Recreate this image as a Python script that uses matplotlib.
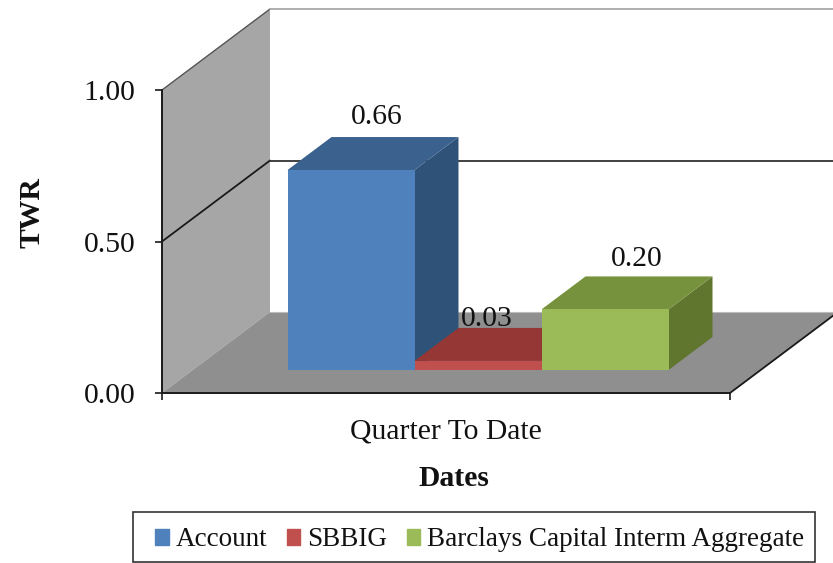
import matplotlib
matplotlib.use('Agg')
import matplotlib.pyplot as plt
import matplotlib.patches as mpatches

plt.rcParams['font.family'] = ['Liberation Serif', 'DejaVu Serif']

series = ['Account', 'SBBIG', 'Barclays Capital Interm Aggregate']
values = [0.66, 0.03, 0.20]
value_labels = ['0.66', '0.03', '0.20']
y_ticks = [0.0, 0.5, 1.0]
y_tick_labels = ['0.00', '0.50', '1.00']
category = 'Quarter To Date'

front_colors = ['#4F81BD', '#C0504D', '#9BBB59']
top_colors = ['#3B618F', '#953735', '#76923C']
side_colors = ['#2F5279', '#7F2E2C', '#60762F']

# oblique projection, all sizes relative to the axis box
DEPTH_X = 108 / 568
DEPTH_Y = 81 / 303
BAR_NEAR = 0.284
BAR_FAR = 0.691
BAR_START = 0.167
BAR_WIDTH = 0.2236
FONT = 21.3


def project(x, v, d):
	return x + d * DEPTH_X, v + d * DEPTH_Y


def quad(ax, corners, color, z=1):
	pts = [project(*c) for c in corners]
	ax.fill([p[0] for p in pts], [p[1] for p in pts], color=color, lw=0, zorder=z)


def line3d(ax, a, b, color, lw=1.3, z=2):
	pa, pb = project(*a), project(*b)
	ax.plot([pa[0], pb[0]], [pa[1], pb[1]], color=color, lw=lw, zorder=z, solid_capstyle='round')


fig = plt.figure(figsize=(8.33, 5.63), dpi=100)
ax = fig.add_axes([0, 0, 1, 1])
ax.set_xlim(-162 / 568, 671 / 568)
ax.set_ylim(-170 / 303, 393 / 303)
ax.patch.set_alpha(0)

# walls and floor
quad(ax, [(0, 0, 0), (0, 1, 0), (0, 1, 1), (0, 0, 1)], '#A6A6A6')
quad(ax, [(0, 0, 0), (1, 0, 0), (1, 0, 1), (0, 0, 1)], '#8F8F8F')
line3d(ax, (0, 1, 0), (0, 1, 1), '#555555', lw=1.0)
line3d(ax, (0, 1, 1), (1.1, 1, 1), '#A8A8A8', lw=1.3)
line3d(ax, (0, 0.5, 0), (0, 0.5, 1), '#1A1A1A')
line3d(ax, (0, 0.5, 1), (1.1, 0.5, 1), '#333333')
line3d(ax, (1, 0, 0), (1, 0, 1), '#1A1A1A')
line3d(ax, (0, 0, 1), (1.1, 0, 1), '#BBBBBB', lw=0.8, z=1)

# bars
for i, v in enumerate(values):
	x0 = BAR_START + i * BAR_WIDTH
	x1 = x0 + BAR_WIDTH
	z = 3 + i
	quad(ax, [(x1, 0, BAR_NEAR), (x1, v, BAR_NEAR), (x1, v, BAR_FAR), (x1, 0, BAR_FAR)], side_colors[i], z)
	quad(ax, [(x0, v, BAR_NEAR), (x1, v, BAR_NEAR), (x1, v, BAR_FAR), (x0, v, BAR_FAR)], top_colors[i], z)
	quad(ax, [(x0, 0, BAR_NEAR), (x1, 0, BAR_NEAR), (x1, v, BAR_NEAR), (x0, v, BAR_NEAR)], front_colors[i], z)

# value labels, nudged by hand like the original
label_dx = [0.046, 0.016, 0.055]
label_dy = [0.065, 0.031, 0.057]
for i, v in enumerate(values):
	cx, cy = project(BAR_START + (i + 0.5) * BAR_WIDTH, v, BAR_NEAR)
	top_y = project(0, v, BAR_FAR)[1]
	ax.text(cx + label_dx[i], top_y + label_dy[i], value_labels[i], fontsize=FONT,
		ha='center', va='center', color='#111111', zorder=8)

# axes
for s in ['top', 'right']:
	ax.spines[s].set_visible(False)
ax.spines['left'].set_position(('data', 0))
ax.spines['bottom'].set_position(('data', 0))
ax.spines['left'].set_bounds(0, 1)
ax.spines['bottom'].set_bounds(0, 1)
ax.spines['left'].set_linewidth(1.4)
ax.spines['bottom'].set_linewidth(1.4)
ax.spines['left'].set_color('#1A1A1A')
ax.spines['bottom'].set_color('#1A1A1A')
ax.spines['left'].set_zorder(2.5)
ax.spines['bottom'].set_zorder(2.5)
ax.set_yticks(y_ticks)
ax.set_yticklabels(y_tick_labels, fontsize=FONT, color='#111111')
ax.set_xticks([0, 1])
ax.set_xticklabels(['', ''])
ax.set_xticks([0.5], minor=True)
ax.set_xticklabels([category], minor=True, fontsize=FONT, color='#111111')
ax.tick_params(axis='y', length=5, width=1.2, direction='out', pad=14, color='#1A1A1A')
ax.tick_params(axis='x', which='major', length=5, width=1.2, direction='out', color='#1A1A1A')
ax.tick_params(axis='x', which='minor', length=0, pad=18.5)

ax.text(32 / 833, 1 - 213 / 563, 'TWR', transform=ax.transAxes, rotation=90, fontsize=FONT,
	fontweight='bold', ha='center', va='center', color='#111111')
ax.text(454 / 833, 1 - 478 / 563, 'Dates', transform=ax.transAxes, fontsize=FONT,
	fontweight='bold', ha='center', va='center', color='#111111')

# legend box is wider than its padding would give, so the frame is separate
ax.add_patch(mpatches.Rectangle((133 / 833, 1 - 562 / 563), 682 / 833, 50 / 563, transform=ax.transAxes,
	facecolor='white', edgecolor='#333333', lw=1.2, zorder=9))
handles = [mpatches.Patch(color=c, label=s) for c, s in zip(front_colors, series)]
leg = ax.legend(handles=handles, ncol=3, fontsize=19.5, loc='center left',
	bbox_to_anchor=(155 / 833, 1 - 540 / 563), borderaxespad=0, frameon=False,
	handlelength=0.5, handleheight=0.5, handletextpad=0.26, columnspacing=0.72,
	borderpad=0, labelcolor='#111111')
leg.set_zorder(10)

fig.savefig('out.png', dpi=100)
